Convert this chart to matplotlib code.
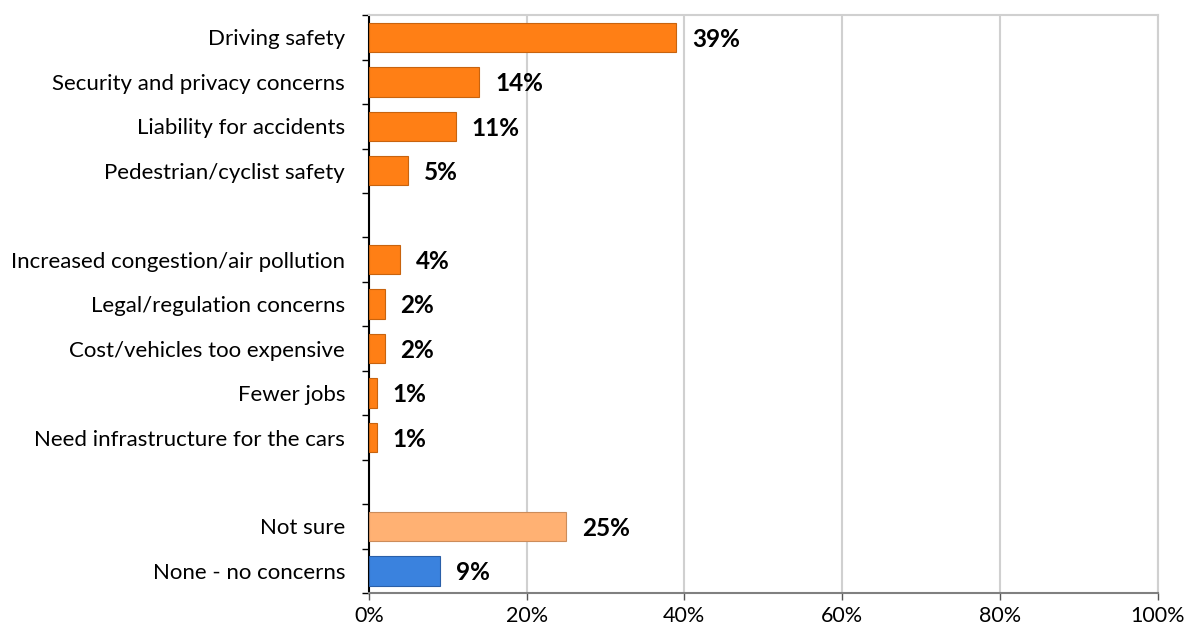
import matplotlib.pyplot as plt
import numpy as np

plt.rcParams['font.family'] = ['Lato', 'DejaVu Sans']

# categories top -> bottom, '' marks the empty spacer rows
categories = ["Driving safety", "Security and privacy concerns", "Liability for accidents",
              "Pedestrian/cyclist safety", "",
              "Increased congestion/air pollution", "Legal/regulation concerns",
              "Cost/vehicles too expensive", "Fewer jobs", "Need infrastructure for the cars", "",
              "Not sure", "None - no concerns"]
values = [39, 14, 11, 5, None, 4, 2, 2, 1, 1, None, 25, 9]
colors = ["#FF7F15"] * 11 + ["#FFB173", "#3A82DE"]
edges = ["#C8630E"] * 11 + ["#CC8C5A", "#2A5FA8"]

fig, ax = plt.subplots(figsize=(11.86, 6.33), dpi=100)
fig.subplots_adjust(left=0.311, right=0.976, top=0.976, bottom=0.063)

n = len(categories)
ypos = np.arange(n)
for y, v, c, e in zip(ypos, values, colors, edges):
    if v is None:
        continue
    ax.barh(y, v, height=0.66, color=c, edgecolor=e, linewidth=0.8, zorder=3)
    ax.text(v + 2.0, y + 0.04, f"{v}%", va='center', ha='left', fontsize=17.5,
            fontweight='bold', color='black', zorder=4)

ax.set_ylim(n - 0.5, -0.5)
ax.set_xlim(0, 100)
ax.set_xticks([0, 20, 40, 60, 80, 100])
ax.set_xticklabels(["0%", "20%", "40%", "60%", "80%", "100%"], fontsize=15.5)
ax.set_yticks(ypos)
ax.set_yticklabels(categories, fontsize=16)
ax.tick_params(axis='y', length=0, pad=17)
ax.set_yticks(np.arange(-0.5, n, 1), minor=True)
ax.tick_params(axis='y', which='minor', length=5, width=1, color='black')
ax.tick_params(axis='x', length=5, width=1, color='#555555', pad=4)

ax.grid(axis='x', color='#D0D0D0', linewidth=1.5, zorder=0)
ax.spines['left'].set_color('black')
ax.spines['left'].set_linewidth(1.5)
ax.spines['bottom'].set_color('#808080')
ax.spines['bottom'].set_linewidth(1.5)
ax.spines['top'].set_color('#D0D0D0')
ax.spines['top'].set_linewidth(1.5)
ax.spines['right'].set_color('#D0D0D0')
ax.spines['right'].set_linewidth(1.5)

fig.savefig("out.png", dpi=100)
